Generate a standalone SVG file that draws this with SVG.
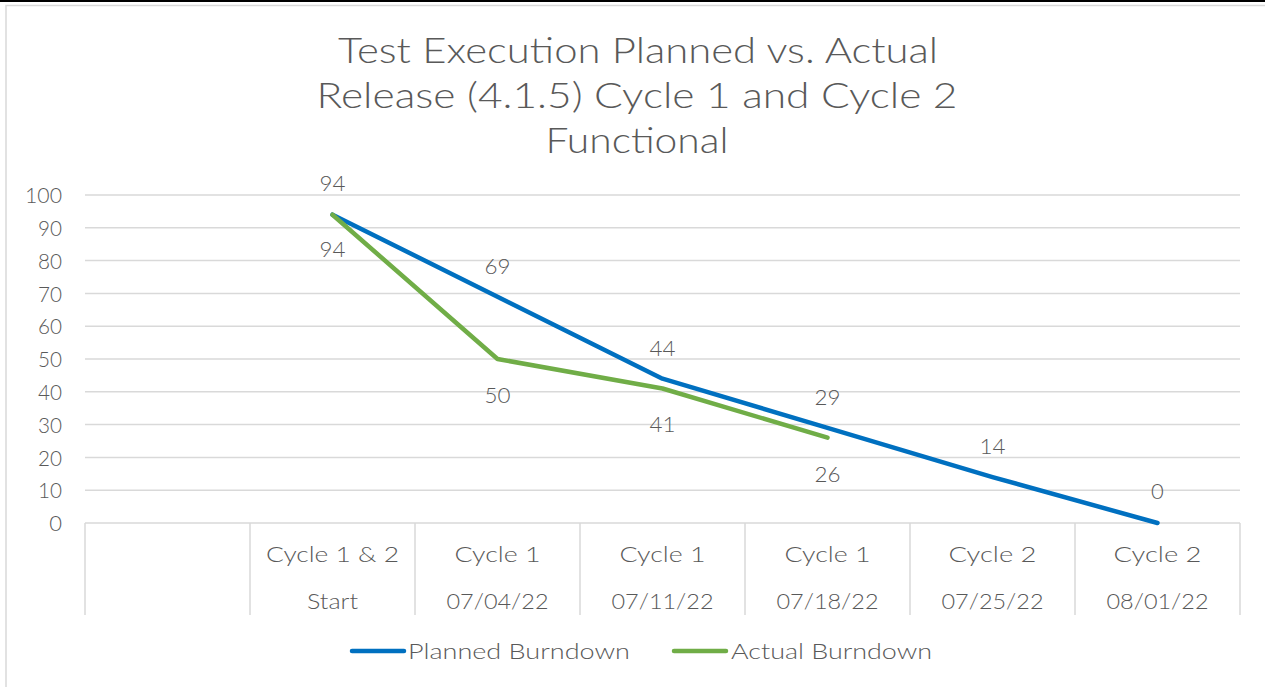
<svg xmlns="http://www.w3.org/2000/svg" width="1265" height="687" viewBox="0 0 1265 687">
<style>
  text { font-family: "Lato", "Open Sans", "Liberation Sans", sans-serif; fill: #595959; font-weight: 300; }
  .title { font-size: 36px; text-anchor: middle; }
  .ax { font-size: 22px; text-anchor: end; }
  .cat { font-size: 22px; text-anchor: middle; }
  .dl { font-size: 22px; text-anchor: middle; }
  .leg { font-size: 22px; }
  .grid { stroke: #d9d9d9; stroke-width: 1.5; fill: none; }
  .planned { stroke: #0070c0; stroke-width: 4.5; fill: none; stroke-linejoin: round; stroke-linecap: round; }
  .actual { stroke: #70ad47; stroke-width: 4.5; fill: none; stroke-linejoin: round; stroke-linecap: round; }
</style>
<rect x="0" y="0" width="1265" height="687" fill="#ffffff"/>
<rect x="0" y="0" width="1265" height="2" fill="#000000"/>
<rect x="6" y="5.5" width="1280" height="700" fill="none" stroke="#d9d9d9" stroke-width="1.5"/>

<g id="title">
  <text class="title" x="638" y="63" textLength="600" lengthAdjust="spacingAndGlyphs">Test Execution Planned vs. Actual</text>
  <text class="title" x="637" y="108" textLength="641" lengthAdjust="spacingAndGlyphs">Release (4.1.5) Cycle 1 and Cycle 2</text>
  <text class="title" x="637" y="153" textLength="183" lengthAdjust="spacingAndGlyphs">Functional</text>
</g>

<g id="gridlines">
  <line class="grid" x1="85" y1="195" x2="1240" y2="195"/>
  <line class="grid" x1="85" y1="227.8" x2="1240" y2="227.8"/>
  <line class="grid" x1="85" y1="260.6" x2="1240" y2="260.6"/>
  <line class="grid" x1="85" y1="293.4" x2="1240" y2="293.4"/>
  <line class="grid" x1="85" y1="326.2" x2="1240" y2="326.2"/>
  <line class="grid" x1="85" y1="359" x2="1240" y2="359"/>
  <line class="grid" x1="85" y1="391.8" x2="1240" y2="391.8"/>
  <line class="grid" x1="85" y1="424.6" x2="1240" y2="424.6"/>
  <line class="grid" x1="85" y1="457.4" x2="1240" y2="457.4"/>
  <line class="grid" x1="85" y1="490.2" x2="1240" y2="490.2"/>
  <line class="grid" x1="85" y1="523" x2="1240" y2="523"/>
  <line class="grid" x1="85" y1="523" x2="85" y2="615"/>
  <line class="grid" x1="250" y1="523" x2="250" y2="615"/>
  <line class="grid" x1="415" y1="523" x2="415" y2="615"/>
  <line class="grid" x1="580" y1="523" x2="580" y2="615"/>
  <line class="grid" x1="745" y1="523" x2="745" y2="615"/>
  <line class="grid" x1="910" y1="523" x2="910" y2="615"/>
  <line class="grid" x1="1075" y1="523" x2="1075" y2="615"/>
  <line class="grid" x1="1240" y1="523" x2="1240" y2="615"/>
</g>

<g id="y-axis">
  <text class="ax" x="62" y="203" textLength="37" lengthAdjust="spacingAndGlyphs">100</text>
  <text class="ax" x="62" y="236" textLength="24" lengthAdjust="spacingAndGlyphs">90</text>
  <text class="ax" x="62" y="268.5" textLength="24" lengthAdjust="spacingAndGlyphs">80</text>
  <text class="ax" x="62" y="301.5" textLength="24" lengthAdjust="spacingAndGlyphs">70</text>
  <text class="ax" x="62" y="334" textLength="24" lengthAdjust="spacingAndGlyphs">60</text>
  <text class="ax" x="62" y="367" textLength="24" lengthAdjust="spacingAndGlyphs">50</text>
  <text class="ax" x="62" y="400" textLength="24" lengthAdjust="spacingAndGlyphs">40</text>
  <text class="ax" x="62" y="432.5" textLength="24" lengthAdjust="spacingAndGlyphs">30</text>
  <text class="ax" x="62" y="465.5" textLength="24" lengthAdjust="spacingAndGlyphs">20</text>
  <text class="ax" x="62" y="498" textLength="24" lengthAdjust="spacingAndGlyphs">10</text>
  <text class="ax" x="62" y="531">0</text>
</g>

<g id="x-axis">
  <text class="cat" x="332.5" y="562" textLength="133" lengthAdjust="spacingAndGlyphs">Cycle 1 &amp; 2</text>
  <text class="cat" x="332.5" y="609" textLength="51" lengthAdjust="spacingAndGlyphs">Start</text>
  <text class="cat" x="497.5" y="562" textLength="86" lengthAdjust="spacingAndGlyphs">Cycle 1</text>
  <text class="cat" x="497.5" y="609" textLength="102" lengthAdjust="spacingAndGlyphs">07/04/22</text>
  <text class="cat" x="662.5" y="562" textLength="86" lengthAdjust="spacingAndGlyphs">Cycle 1</text>
  <text class="cat" x="662.5" y="609" textLength="102" lengthAdjust="spacingAndGlyphs">07/11/22</text>
  <text class="cat" x="827.5" y="562" textLength="86" lengthAdjust="spacingAndGlyphs">Cycle 1</text>
  <text class="cat" x="827.5" y="609" textLength="102" lengthAdjust="spacingAndGlyphs">07/18/22</text>
  <text class="cat" x="992.5" y="562" textLength="88" lengthAdjust="spacingAndGlyphs">Cycle 2</text>
  <text class="cat" x="992.5" y="609" textLength="102" lengthAdjust="spacingAndGlyphs">07/25/22</text>
  <text class="cat" x="1157.5" y="562" textLength="88" lengthAdjust="spacingAndGlyphs">Cycle 2</text>
  <text class="cat" x="1157.5" y="609" textLength="102" lengthAdjust="spacingAndGlyphs">08/01/22</text>
</g>

<g id="connectors">
  <polyline id="planned-burndown" class="planned" points="332.5,214.7 497.5,296.7 662.5,378.7 827.5,427.9 992.5,477.1 1157.5,523"/>
  <polyline id="actual-burndown" class="actual" points="332.5,214.7 497.5,359 662.5,388.5 827.5,437.7"/>
</g>

<g id="planned-labels">
  <text class="dl" x="332.5" y="191" textLength="26" lengthAdjust="spacingAndGlyphs">94</text>
  <text class="dl" x="497.5" y="274" textLength="26" lengthAdjust="spacingAndGlyphs">69</text>
  <text class="dl" x="662.5" y="356" textLength="26" lengthAdjust="spacingAndGlyphs">44</text>
  <text class="dl" x="827.5" y="405" textLength="26" lengthAdjust="spacingAndGlyphs">29</text>
  <text class="dl" x="992.5" y="454" textLength="26" lengthAdjust="spacingAndGlyphs">14</text>
  <text class="dl" x="1157.5" y="499">0</text>
</g>

<g id="actual-labels">
  <text class="dl" x="332.5" y="257" textLength="26" lengthAdjust="spacingAndGlyphs">94</text>
  <text class="dl" x="497.5" y="403" textLength="26" lengthAdjust="spacingAndGlyphs">50</text>
  <text class="dl" x="662.5" y="432" textLength="26" lengthAdjust="spacingAndGlyphs">41</text>
  <text class="dl" x="827.5" y="482" textLength="26" lengthAdjust="spacingAndGlyphs">26</text>
</g>

<g id="legend">
  <line class="planned" x1="352" y1="651" x2="404" y2="651"/>
  <text class="leg" x="408" y="658.5" textLength="222" lengthAdjust="spacingAndGlyphs">Planned Burndown</text>
  <line class="actual" x1="674" y1="651" x2="726" y2="651"/>
  <text class="leg" x="731" y="658.5" textLength="201" lengthAdjust="spacingAndGlyphs">Actual Burndown</text>
</g>
</svg>
